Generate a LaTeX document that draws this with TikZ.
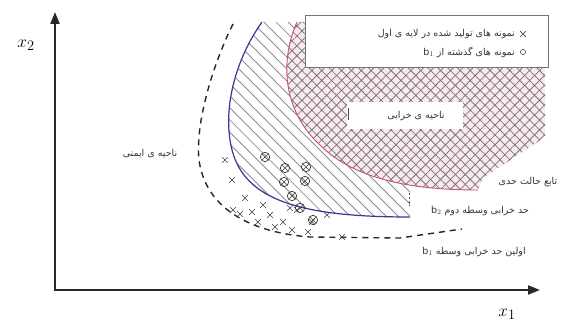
\documentclass[tikz,border=0pt]{standalone}
\usepackage{fontspec}
\newfontfamily\fa[Script=Arabic]{DejaVu Sans}
\TeXXeTstate=1
\usetikzlibrary{patterns.meta,arrows.meta}
\definecolor{bluec}{RGB}{55,55,150}
\definecolor{redc}{RGB}{200,80,100}
\definecolor{pinkc}{RGB}{250,234,240}
\definecolor{hatchc}{RGB}{120,120,120}
\definecolor{axisc}{RGB}{40,40,40}
\tikzset{
  lbl/.style={font=\fa\fontsize{9.5}{10}\selectfont, inner sep=0pt, text=black!80},
  axis/.style={line width=2.2pt, draw=axisc, -{Triangle[length=12pt,width=9pt]}},
  xx/.pic={\draw[line width=0.7pt, black!75] (-2.8,-2.8)--(2.8,2.8) (-2.8,2.8)--(2.8,-2.8);},
  ox/.pic={\draw[line width=0.7pt, black!75] (0,0) circle (4.7) (-3.3,-3.3)--(3.3,3.3) (-3.3,3.3)--(3.3,-3.3);}
}
\begin{document}
\begin{tikzpicture}[x=1pt,y=-1pt]
\useasboundingbox (0,0) rectangle (581,323);
\fill[white] (0,0) rectangle (581,323);
% hatched region (between blue and red)
\fill[pattern={Lines[angle=-45,distance=8.5pt,line width=0.7pt]}, pattern color=hatchc]
  (262,22) .. controls (235,60) and (222,110) .. (232,150)
  .. controls (245,200) and (300,217) .. (410,217) -- (410,185) -- (300,22) -- cycle;
% failure region
\path[fill=pinkc] (297,22) .. controls (280,60) and (282,110) .. (320,145)
  .. controls (350,175) and (400,190) .. (478,190) -- (483,178) -- (545,137) -- (545,20) -- cycle;
\path[pattern={Hatch[angle=45,distance=7pt,line width=0.8pt]}, pattern color=hatchc]
  (297,22) .. controls (280,60) and (282,110) .. (320,145)
  .. controls (350,175) and (400,190) .. (478,190) -- (483,178) -- (545,137) -- (545,20) -- cycle;
% curves
\coordinate (bs) at (262,22); \coordinate (be) at (410,217);
\coordinate (rs) at (297,22); \coordinate (re) at (478,190);
\coordinate (ds) at (233,24); \coordinate (de) at (462,229);
\draw[redc, line width=0.9pt] (rs) .. controls (280,60) and (282,110) .. (320,145)
  .. controls (350,175) and (400,190) .. (re);
\draw[bluec, line width=1.2pt] (bs) .. controls (235,60) and (222,110) .. (232,150)
  .. controls (245,200) and (300,217) .. (be);
\draw[black!85, line width=1.4pt, dash pattern=on 6pt off 5pt] (ds) .. controls (215,60) and (195,120) .. (199,160)
  .. controls (205,205) and (245,232) .. (310,237) -- (400,238) -- (de);
\coordinate (vt) at (409,193); \coordinate (vb) at (409,206);
\draw[black!70, line width=0.8pt, dash pattern=on 2pt off 2pt] (vt) -- (vb);
% samples
\foreach \p in {(225,160),(232,180),(245,198),(233,210),(252,212),(263,205),(270,215),(275,227),
  (283,222),(290,208),(297,210),(312,222),(308,232),(327,215),(342,237),(258,222),(240,214),(292,230)}
  \pic at \p {xx};
\foreach \p in {(265,157),(285,168),(284,182),(306,167),(305,181),(292,196),(300,208),(313,220)}
  \pic at \p {ox};
% damage label box
\node[fill=white, minimum width=116pt, minimum height=27pt, inner sep=0pt] (dbox) at (405,116) {};
\coordinate (bt) at (348,108); \coordinate (bb) at (348,120);
\draw[black!70, line width=1pt] (bt) -- (bb);
\node[lbl] (dmg) at (416,116) {\beginR ناحیه ی خرابی\endR};
% legend
\node[fill=white, draw=black!55, line width=0.8pt, minimum width=243pt, minimum height=52pt, inner sep=0pt] (leg) at (426.5,41.5) {};
\node[lbl, anchor=east] (l1) at (515,34) {\beginR نمونه های تولید شده در لایه ی اول\endR};
\node[lbl, anchor=east] (l2) at (515,52) {\beginR نمونه های گذشته از \beginL b$_1$\endL\endR};
\pic at (523,34) {xx};
\draw[black!75, line width=0.5pt] (523,52) circle (2.6);
% labels
\node[lbl] (safe) at (150,154) {\beginR ناحیه ی ایمنی\endR};
\node[lbl] (lsf) at (528,182) {\beginR تابع حالت حدی\endR};
\node[lbl] (b2) at (480,211) {\beginR حد خرابی وسطه دوم \beginL b$_2$\endL\endR};
\node[lbl] (b1) at (474,252) {\beginR اولین حد خرابی وسطه \beginL b$_1$\endL\endR};
% axes
\coordinate (O) at (55,290); \coordinate (Yt) at (55,12); \coordinate (Xt) at (540,290);
\draw[axis] (O) -- (Yt);
\draw[axis] (54,290) -- (Xt);
\node[font=\fontsize{19}{19}\selectfont] (x2) at (26,45) {$x_2$};
\node[font=\fontsize{19}{19}\selectfont] (x1) at (507,314) {$x_1$};
\end{tikzpicture}
\end{document}
